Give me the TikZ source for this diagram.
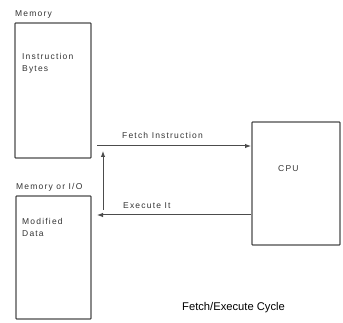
\documentclass[tikz,border=0pt]{standalone}
\usepackage{fontspec}
\setmainfont{Liberation Sans}
\newfontfamily\techfont[LetterSpace=14]{Liberation Sans}
\usetikzlibrary{arrows.meta}
\definecolor{linegray}{gray}{0.3}
\begin{document}
\begin{tikzpicture}[x=1pt,y=-1pt,
  box/.style={draw=linegray,line width=1.2pt,rounded corners=0.8pt},
  lbl/.style={font=\techfont\fontsize{8.5}{10}\selectfont,text=black!80,inner sep=0pt,anchor=base west},
  arr/.style={draw=linegray,line width=1pt,-{Latex[length=6pt,width=4.5pt]}}]
\useasboundingbox (0,0) rectangle (343,323);
% boxes
\draw[box] (15,23) rectangle (91,158);
\draw[box] (16,196) rectangle (91,319);
\draw[box] (252,122) rectangle (340,245);
\coordinate (fs) at (97,146);
\coordinate (cpuf) at (251,146);
\coordinate (cpue) at (251,215);
\coordinate (ee) at (97,215);
\coordinate (vs) at (103,210);
\coordinate (ve) at (103,151);
% labels
\node[lbl] (memlbl) at (15,17) {Memory};
\node[lbl] (ib1) at (22,60) {Instruction};
\node[lbl] (ib2) at (22,72) {Bytes};
\node[lbl] (mio) at (16,190) {Memory or I/O};
\node[lbl] (md1) at (22,225) {Modified};
\node[lbl] (md2) at (22,237) {Data};
\node[lbl] (cpu) at (278,172) {CPU};
\node[lbl] (fi) at (122,139) {Fetch Instruction};
\node[lbl] (ei) at (123,209) {Execute It};
\node[font=\fontsize{11.2}{13}\selectfont,inner sep=0pt,anchor=base west] (title) at (182,311) {Fetch/Execute Cycle};
% arrows
\draw[arr] (fs) -- (cpuf);
\draw[arr] (cpue) -- (ee);
\draw[arr] (vs) -- (ve);
\end{tikzpicture}
\end{document}
